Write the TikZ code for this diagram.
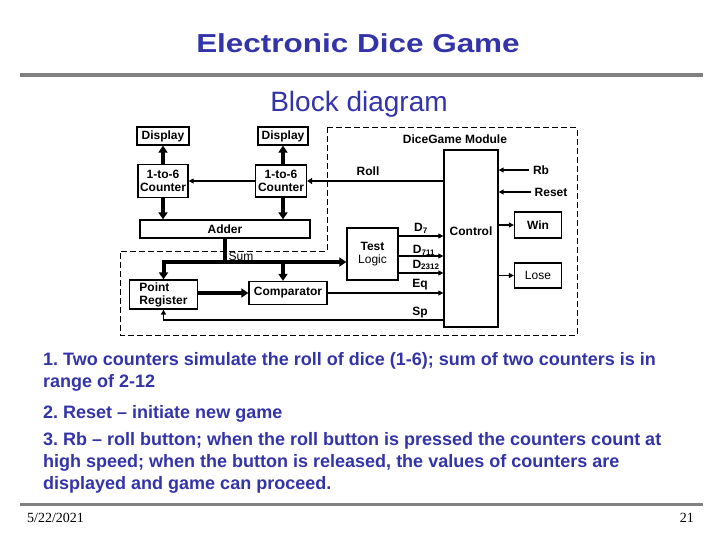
\documentclass[tikz,border=0pt]{standalone}
\usepackage{fontspec}
\usepackage{graphicx}
\setmainfont{Liberation Sans}
\newfontfamily\footfont{Liberation Serif}
\usetikzlibrary{arrows.meta}
\definecolor{slideblue}{RGB}{51,51,170}
\definecolor{rulegray}{RGB}{128,128,128}
\frenchspacing

\begin{document}
\begin{tikzpicture}[x=1pt, y=-1pt,
    every node/.style={inner sep=0pt, font=\fontsize{12}{13}\selectfont\bfseries},
    blk/.style={draw=black, line width=1.3pt, align=center},
    bus/.style={line width=4pt, -{Triangle[length=7pt,width=9pt]}},
    busline/.style={line width=4pt},
    wire/.style={line width=1.2pt, -{Triangle[length=5pt,width=5pt]}},
    rollwire/.style={line width=2.8pt, -{Triangle[length=5pt,width=6pt]}},
    modbox/.style={line width=1pt, dash pattern=on 6pt off 3pt},
    slidetxt/.style={anchor=base west, text=slideblue, font=\fontsize{18}{22}\selectfont\bfseries},
    foottxt/.style={font=\footfont\fontsize{14}{16}\selectfont}
]
\useasboundingbox (0,0) rectangle (720,540);
% Title and rules
\node[anchor=base, text=slideblue, font=\fontsize{26}{30}\selectfont\bfseries] (title) at (358,53)
    {\scalebox{1.21}[1]{Electronic Dice Game}};
\draw[rulegray, line width=4pt] (20,75) -- (703,75);
\node[anchor=base, text=slideblue, font=\fontsize{28}{32}\selectfont] (subtitle) at (359,111.5) {Block diagram};
% Module outline
\draw[modbox] (327,128) -- (577,128) -- (577,335) -- (120,335) -- (120,251) -- (327,251) -- cycle;
\node (modlbl) at (455,139) {DiceGame Module};
% Blocks
\node[blk, minimum width=52pt, minimum height=18pt] (dispL) at (163,136) {Display};
\node[blk, minimum width=50pt, minimum height=18pt] (dispR) at (283,136) {Display};
\node[blk, minimum width=50pt, minimum height=33pt] (cntL) at (163,181) {1-to-6\\Counter};
\node[blk, minimum width=51pt, minimum height=32pt] (cntR) at (281,181) {1-to-6\\Counter};
\node[blk, minimum width=170pt, minimum height=18pt] (adder) at (225,229) {Adder};
\node[blk, minimum width=54pt, minimum height=177pt,
      label={[yshift=7.5pt]center:Control}] (control) at (471,238.5) {};
\node[blk, minimum width=51pt, minimum height=52pt] (test) at (372.5,254) {Test\\\mdseries Logic};
\node[blk, minimum width=47pt, minimum height=26pt] (win) at (538,225) {Win};
\node[blk, minimum width=47pt, minimum height=25pt] (lose) at (538,275.5) {\mdseries Lose};
\node[blk, align=left, minimum width=68pt, minimum height=29pt] (preg) at (163.5,294.5) {Point\\Register};
\node[blk, minimum width=78pt, minimum height=23pt] (comp) at (288,293) {Comparator};
\node (rb) at (541,170) {Rb};
\node (reset) at (551,192) {Reset};
\coordinate (sumj) at (225,262);
% Counters and displays
\draw[bus] (cntL.south |- cntL.north) -- (dispL.south);
\draw[bus] (dispR.south |- cntR.north) -- (dispR.south);
\draw[bus] (cntL.south) -- (cntL.south |- adder.north);
\draw[bus] (dispR.south |- cntR.south) -- (dispR.south |- adder.north);
\draw[wire] (cntR.west) -- (cntL.east);
\draw[rollwire] (control.west |- cntR.east) -- (cntR.east);
\node (rolllbl) at (368,171) {Roll};
% Sum bus
\draw[busline] (adder.south) -- (sumj);
\draw[bus] (sumj) -| (preg.north);
\draw[bus] (sumj) -- (sumj -| test.west);
\draw[bus] ([xshift=-5pt]comp.north |- sumj) -- ([xshift=-5pt]comp.north);
\node[font=\fontsize{12}{13}\selectfont] (sumlbl) at (241,256) {Sum};
\draw[bus] (preg.east |- comp.west) -- (comp.west);
% Into control
\draw[wire] ([yshift=18pt]test.east) -- ([yshift=18pt]test.east -| control.west);
\draw[wire] ([yshift=-2pt]test.east) -- ([yshift=-2pt]test.east -| control.west);
\draw[wire] ([yshift=-19pt]test.east) -- ([yshift=-19pt]test.east -| control.west);
\draw[wire] (comp.east) -- (comp.east -| control.west);
\draw[wire] ([yshift=-81.5pt]control.west) -| (preg.south);
\node (d7) at (421,228) {D\textsubscript{7}};
\node (d711) at (424,250) {D\textsubscript{711}};
\node (d2312) at (426,265) {D\textsubscript{2312}};
\node (eqlbl) at (420,285) {Eq};
\node (splbl) at (420,313) {Sp};
\draw[wire] ([xshift=-4pt]rb.west) -- (rb.west -| control.east);
\draw[wire] ([xshift=-3pt]reset.west) -- (reset.west -| control.east);
\draw[wire] (control.east |- win.west) -- (win.west);
\draw[wire] (control.east |- lose.west) -- (lose.west);
% Notes
\node[slidetxt] (n1a) at (43,365) {1. Two counters simulate the roll of dice (1-6); sum of two counters is in};
\node[slidetxt] (n1b) at (43,387) {range of 2-12};
\node[slidetxt] (n2) at (43,418) {2. Reset -- initiate new game};
\node[slidetxt] (n3a) at (43,445) {3. Rb -- roll button; when the roll button is pressed the counters count at};
\node[slidetxt] (n3b) at (43,467) {high speed; when the button is released, the values of counters are};
\node[slidetxt] (n3c) at (43,489) {displayed and game can proceed.};
% Footer
\draw[rulegray, line width=3pt] (20,504.5) -- (703,504.5);
\node[foottxt, anchor=base west] (date) at (27,522) {5/22/2021};
\node[foottxt, anchor=base east] (page) at (694,522) {21};
\end{tikzpicture}
\end{document}
